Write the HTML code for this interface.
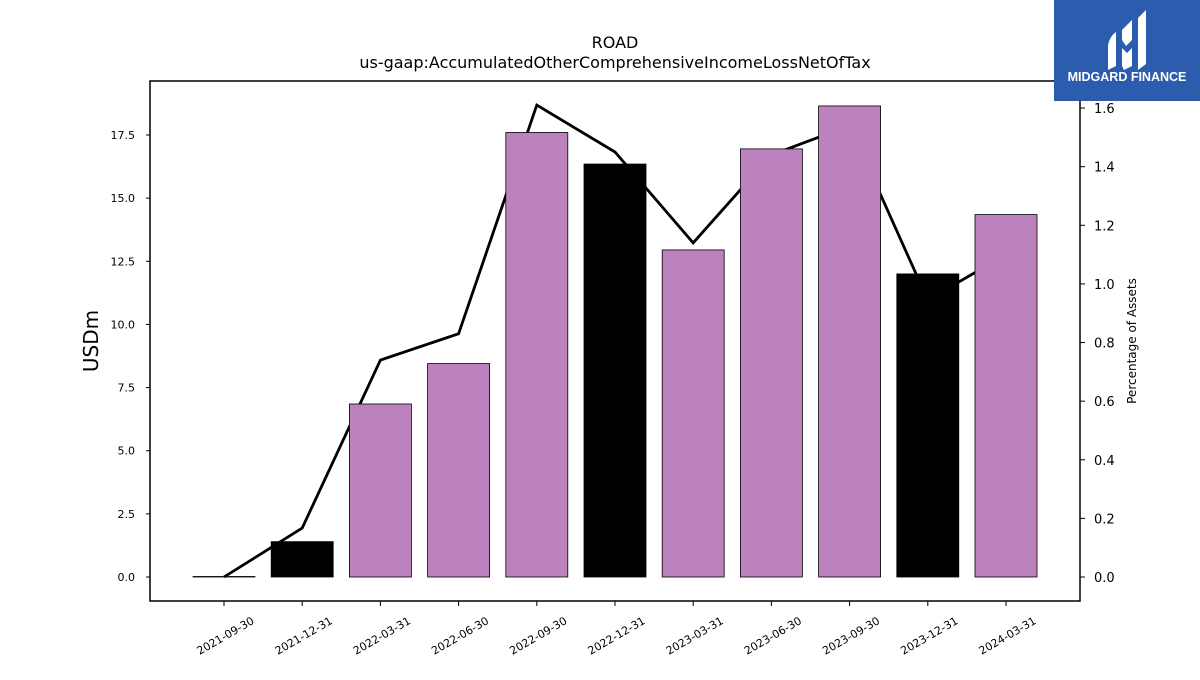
<!DOCTYPE html>
<html><head><meta charset="utf-8"><style>
body{margin:0;background:#fff;font-family:"Liberation Sans","DejaVu Sans",sans-serif}
</style></head><body>
<svg id="chart" width="1200" height="675" xmlns="http://www.w3.org/2000/svg" font-family="'DejaVu Sans','Liberation Sans',sans-serif">
<rect width="1200" height="675" fill="#fff"/>
<text x="615" y="48" text-anchor="middle" font-size="16">ROAD</text>
<text x="615" y="68" text-anchor="middle" font-size="16">us-gaap:AccumulatedOtherComprehensiveIncomeLossNetOfTax</text>
<g id="line-layer"></g>
<g id="bar-layer"></g>
<rect x="150" y="81" width="930" height="520" fill="none" stroke="#000" stroke-width="1.5"/>
<g id="axes"></g>
<text transform="translate(98,341) rotate(-90)" text-anchor="middle" font-size="20">USDm</text>
<text transform="translate(1136,341) rotate(-90)" text-anchor="middle" font-size="12">Percentage of Assets</text>
<g>
<rect x="1054" y="0" width="146" height="101" fill="#2c5cae"/>
<path d="M1108 45 Q1110 36 1116 32 L1116 66 L1108 70 Z M1122 30 L1132 20 L1132 40 L1126 46 L1122 40 Z M1122 48 L1127 53 L1132 48 L1132 66 L1124 70 L1122 66 Z M1138 18 L1146 10 L1146 64 L1138 70 Z" fill="#fff"/>
<text x="1127" y="81" text-anchor="middle" font-size="12.5" font-weight="bold" fill="#fff" font-family="'Liberation Sans',sans-serif">MIDGARD FINANCE</text>
</g>
</svg>
<script>
const categories=["2021-09-30","2021-12-31","2022-03-31","2022-06-30","2022-09-30","2022-12-31","2023-03-31","2023-06-30","2023-09-30","2023-12-31","2024-03-31"];
const barValues=[0.02,1.4,6.85,8.45,17.6,16.35,12.95,16.95,18.65,12.0,14.35];
const pctValues=[0.0,0.167,0.74,0.83,1.61,1.45,1.14,1.44,1.54,0.945,1.10];
const barColors=["#bc82bd","#000000","#bc82bd","#bc82bd","#bc82bd","#000000","#bc82bd","#bc82bd","#bc82bd","#000000","#bc82bd"];
const leftTicks=[0,2.5,5,7.5,10,12.5,15,17.5];
const rightTicks=[0,0.2,0.4,0.6,0.8,1.0,1.2,1.4,1.6];
const NS="http://www.w3.org/2000/svg";
const yL=v=>577-v*25.257;
const yR=v=>577-v*293.1;
const xC=i=>224+i*78.2;
function mk(tag,attrs,parent){const e=document.createElementNS(NS,tag);for(const k in attrs)e.setAttribute(k,attrs[k]);parent.appendChild(e);return e;}
const bars=document.getElementById('bar-layer'),lines=document.getElementById('line-layer'),axes=document.getElementById('axes');
barValues.forEach((v,i)=>{
  const y=yL(Math.max(v,0)),h=Math.abs(yL(v)-yL(0));
  const r=mk('rect',{x:xC(i)-31,y:y,width:62,height:Math.max(h,0.5),fill:barColors[i],stroke:'#000','stroke-width':0.8},bars);
  
  
});
const pts=pctValues.map((v,i)=>xC(i)+','+yR(v)).join(' ');
const pl=mk('polyline',{points:pts,fill:'none',stroke:'#000','stroke-width':2.8},lines);


leftTicks.forEach(t=>{
  const y=yL(t);
  mk('line',{x1:146,x2:150,y1:y,y2:y,stroke:'#000'},axes);
  const tx=mk('text',{x:135,y:y+4,'text-anchor':'end','font-size':11},axes);
  tx.textContent=t.toFixed(1);
  
  
});
rightTicks.forEach(t=>{
  const y=yR(t);
  mk('line',{x1:1080,x2:1085,y1:y,y2:y,stroke:'#000'},axes);
  const tx=mk('text',{x:1094,y:y+5,'font-size':13},axes);
  tx.textContent=t.toFixed(1);
  
  
});
categories.forEach((c,i)=>{
  const x=xC(i);
  mk('line',{x1:x,x2:x,y1:601,y2:606,stroke:'#000'},axes);
  const tx=mk('text',{transform:`translate(${x+31},${623}) rotate(-30)`,'text-anchor':'end','font-size':11},axes);
  tx.textContent=c;
  
  
});
</script>
</body></html>
